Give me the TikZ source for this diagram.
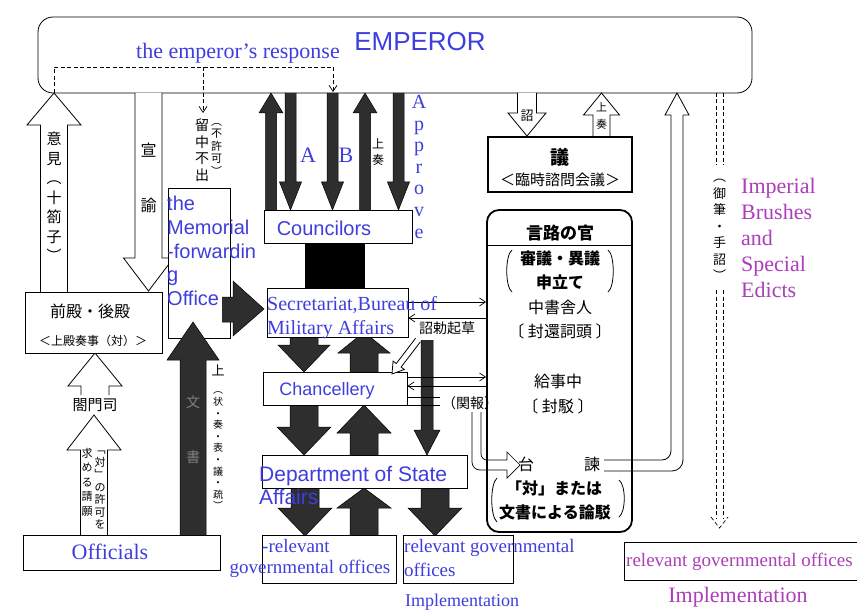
\documentclass[tikz,border=0pt]{standalone}
\usepackage{fontspec}
\setmainfont{Liberation Serif}
\setsansfont{Liberation Sans}
\newfontfamily\cjk{Noto Sans CJK JP}
\usetikzlibrary{arrows.meta}

\definecolor{inkblue}{RGB}{62,62,222}
\definecolor{inkviolet}{RGB}{172,62,186}

% freccia a blocco verticale: x, y inizio, y base punta, y punta, mezzo fusto, mezza punta
\newcommand\blockarr[7][]{%
  \draw[#1] ({#2-#6},#3) -- ({#2-#6},#4) -- ({#2-#7},#4) -- (#2,#5)
    -- ({#2+#7},#4) -- ({#2+#6},#4) -- ({#2+#6},#3);}

\tikzset{
  box/.style={draw, line width=0.8pt, fill=white, inner sep=0pt},
  dark/.style={fill=black!82, draw=black, line width=0.5pt},
  hollow/.style={fill=white, draw=black, line width=0.8pt},
  link/.style={line width=0.7pt, -{Straight Barb[length=6pt,width=8pt]}},
  dsh/.style={line width=0.7pt, dash pattern=on 4pt off 2.5pt},
  en/.style 2 args={text=inkblue, inner sep=0pt, align=left, font=\fontsize{#1}{#2}\selectfont},
  ensans/.style 2 args={text=inkblue, inner sep=0pt, align=left, font=\sffamily\fontsize{#1}{#2}\selectfont},
  vi/.style 2 args={text=inkviolet, inner sep=0pt, align=left, font=\fontsize{#1}{#2}\selectfont},
  jp/.style={inner sep=0pt, font=\cjk\fontsize{#1}{#1}\selectfont},
  jpb/.style={inner sep=0pt, font=\cjk\bfseries\fontsize{#1}{#1}\selectfont},
  jpv/.style 2 args={inner sep=0pt, align=center, font=\cjk\fontsize{#1}{#2}\selectfont}
}

\begin{document}
\begin{tikzpicture}[x=1pt,y=-1pt]
\useasboundingbox[fill=white] (0,0) rectangle (857,615);

% imperatore
\node[box, rounded corners=15pt, minimum width=714, minimum height=76] (emp) at (395,55) {};

% frecce vuote
\blockarr[hollow]{54}{294}{125}{93}{13.5}{27}
\blockarr[hollow]{148.5}{93}{258}{291}{13.5}{25}
\blockarr[hollow]{95}{395}{386}{353}{14}{27}
\blockarr[hollow]{94}{535}{450}{415}{13.5}{27}
\blockarr[hollow]{527}{93}{113}{136}{9.5}{19}
\blockarr[hollow]{601.5}{137}{115}{93}{8.5}{18}

% frecce scure
\blockarr[dark]{271}{210}{113}{93}{5.5}{12}
\blockarr[dark]{290.5}{93}{182}{210}{5.5}{11}
\blockarr[dark]{332.5}{93}{182}{210}{5.5}{11}
\blockarr[dark]{365}{210}{113}{93}{5.5}{12}
\blockarr[dark]{398.5}{93}{182}{210}{5.5}{11}
\fill[black] (305,243) rectangle (365,290);
\blockarr[dark]{304}{337}{345}{372}{14}{26}
\blockarr[dark]{364}{372}{353}{332}{14}{26}
\blockarr[dark]{304}{405}{427}{455}{14}{27}
\blockarr[dark]{364}{455}{433}{405}{14}{27}
\blockarr[dark]{427}{340}{430}{455}{6}{13}
\blockarr[dark]{305}{488}{508}{536}{14}{27}
\blockarr[dark]{364}{535}{508}{488}{14}{27}
\blockarr[dark]{435}{488}{508}{536}{14}{27}

% caselle
\node[box, minimum width=62, minimum height=150] (memo) at (199,263) {};
\node[box, minimum width=137, minimum height=61] (zen) at (93.5,322.5) {};
\node[box, minimum width=197, minimum height=35] (off) at (121.5,552.5) {};
\node[box, minimum width=148, minimum height=33] (coun) at (338,226.5) {};
\node[box, minimum width=141, minimum height=49] (sec) at (337.5,312.5) {};
\node[box, minimum width=144, minimum height=33] (chan) at (335,388.5) {};
\node[box, minimum width=205, minimum height=33] (dept) at (364.5,471.5) {};
\node[box, minimum width=134, minimum height=48] (rel1) at (329,559) {};
\node[box, minimum width=110, minimum height=48] (rel2) at (458,559) {};
\node[box, minimum width=246, minimum height=38] (rel3) at (747,561) {};
\node[box, line width=2pt, minimum width=144, minimum height=55] (gi) at (560,164.5) {};
\node[box, line width=1.8pt, rounded corners=12pt, minimum width=145, minimum height=322] (genro) at (559.5,371) {};
\draw[line width=0.7pt] (genro.west |- 0,245) -- (genro.east |- 0,245);

% verso il segretariato
\draw[dark] (222,297) -- (233,297) -- (233,281) -- (264,309) -- (233,336) -- (233,322) -- (222,322);
\blockarr[dark]{193}{535}{360}{322}{13}{26}

% collegamenti sottili
\draw[link] (sec.east |- 0,302) -- (genro.west |- 0,302);
\draw[link] (genro.west |- 0,318) -- (sec.east |- 0,318);
\draw[link] (chan.east |- 0,377) -- (genro.west |- 0,377);
\draw[link] (genro.west |- 0,386) -- (chan.east |- 0,386);
\draw[hollow] (420.4,341.8) -- (401.1,367.1) -- (404.3,369.5) -- (392,374) -- (393.1,361.1) -- (396.3,363.5) -- (415.6,338.2);
\draw[line width=0.7pt] (chan.east |- 0,397) -- (440,397) (chan.east |- 0,405) -- (440,405);
\draw[line width=0.7pt, rounded corners=8pt] (472,412) -- (472,470) -- (507,470);
\draw[line width=0.7pt, rounded corners=6pt] (481,412) -- (481,460) -- (507,460);
\draw[hollow, line width=0.7pt] (507,460) -- (507,452) -- (520,465) -- (507,478) -- (507,470);
\draw[line width=0.8pt, rounded corners=9pt] (604,460) -- (671,460) -- (671,114);
\draw[line width=0.8pt, rounded corners=11pt] (604,471) -- (683,471) -- (683,114);
\draw[hollow] (671,115) -- (665,115) -- (677,93) -- (689,115) -- (683,115);

% tratteggi
\draw[dsh, -{Straight Barb[length=6pt,width=8pt]}] (54,93) -- (54,67) -- (333,67) -- (333,92);
\draw[dsh, -{Straight Barb[length=6pt,width=8pt]}] (203,67) -- (203,113);
\foreach \xx in {716,723} {
  \draw[dsh] (\xx,93) -- (\xx,165);
  \draw[dsh] (\xx,290) -- (\xx,518);
}
\draw[dsh] (711,517) -- (719.5,528) -- (728,517);

% parentesi
\draw[line width=0.8pt] (512,250) .. controls (505,255) and (505,287) .. (512,292);
\draw[line width=0.8pt] (608,250) .. controls (615,255) and (615,287) .. (608,292);
\draw[line width=0.8pt] (497,478) .. controls (490,484) and (490,516) .. (497,522);
\draw[line width=0.8pt] (619,480) .. controls (626,485) and (626,512) .. (619,517);

% testi inglesi
\node[ensans={26}{26}] (emptxt) at (420,42) {EMPEROR};
\node[en={22}{22}] (resptxt) at (238,53) {the emperor’s response};
\node[ensans={20}{23.7}, anchor=north west] (memotxt) at (167,196) {the\\Memorial\\-forwardin\\g\\Office};
\node[ensans={20}{20}] (countxt) at (324,228) {Councilors};
\node[en={22}{22}] (atxt) at (308,155) {A};
\node[en={22}{22}] (btxt) at (346,155) {B};
\node[en={20}{21.6}, anchor=north, align=center] (apptxt) at (419,95) {A\\p\\p\\r\\o\\v\\e};
\node[en={20}{24}, anchor=north west] (sectxt) at (267,296) {Secretariat,Bureau of\\Military Affairs};
\node[ensans={18}{18}] (chantxt) at (327,391) {Chancellery};
\node[ensans={21}{23}, anchor=north west] (depttxt) at (259,466) {Department of State\\Affairs};
\node[en={19}{19}] (rel1a) at (296,546) {-relevant};
\node[en={19}{19}] (rel1b) at (310,569) {governmental offices};
\node[en={19}{24}, anchor=north west] (rel2txt) at (404,539) {relevant governmental\\offices};
\node[en={18}{18}] (impla) at (462,602) {Implementation};
\node[en={22}{22}] (offtxt) at (110,552) {Officials};
\node[vi={22}{26}, anchor=north west] (edtxt) at (741,178) {Imperial\\Brushes\\and\\Special\\Edicts};
\node[vi={19}{19}, anchor=west] (rel3txt) at (626,562) {relevant governmental offices};
\node[vi={22}{22}] (implb) at (738,597) {Implementation};

% testi giapponesi
\node[jpv={15}{19.5}] (iken) at (54,197) {意\\見\\︵\\十\\箚\\子\\︶};
\node[jp=16] (sen) at (148.5,150) {宣};
\node[jp=16] (yu) at (148.5,205) {諭};
\node[jpv={14}{16.5}] (ryu) at (202,150) {留\\中\\不\\出};
\node[jpv={11}{12.5}] (fukyo) at (216.5,149) {︵\\不\\許\\可\\︶};
\node[jpv={12}{16}] (josoa) at (378,152) {上\\奏};
\node[jp=13] (sho) at (527,116) {詔};
\node[jpv={11}{17}] (josob) at (601.5,116) {上\\奏};
\node[jpb=19] (gitxt) at (560,157) {議};
\node[jp=15] (gisub) at (560,180) {＜臨時諮問会議＞};
\node[jpb=17] (genrotxt) at (560,233) {言路の官};
\node[jpb=16] (shingi) at (560,258) {審議・異議};
\node[jpb=16] (moshi) at (560,282) {申立て};
\node[jp=16] (chusho) at (560,307) {中書舎人};
\node[jp=16] (hokan) at (560,331) {〔 封還詞頭 〕};
\node[jp=16] (kyuji) at (558,381) {給事中};
\node[jp=16] (fuhaku) at (558,406) {〔 封駁 〕};
\node[jp=16] (dai) at (526,464) {台};
\node[jp=16] (kan) at (592,464) {諫};
\node[jpb=16] (taimata) at (554,488) {「対」または};
\node[jpb=16] (ronbaku) at (555,512) {文書による論駁};
\node[jp=14] (shochoku) at (447,328) {詔勅起草};
\node[jp=14] (kanpo) at (470,403) {（関報）};
\node[jp=16] (zenden) at (90,311) {前殿・後殿};
\node[jp=12] (joden) at (93,341) {＜上殿奏事（対）＞};
\node[jp=15] (komon) at (95,405) {閤門司};
\node[jpv={11}{12.5}] (kyoka) at (100,490) {﹁\\対\\﹂\\の\\許\\可\\を};
\node[jpv={11}{14.5}] (seigan) at (87,482) {求\\め\\る\\請\\願};
\node[jp=13] (jo) at (218,370) {上};
\node[jpv={10}{11.6}] (jokind) at (218,451) {︵\\状\\・\\奏\\・\\表\\・\\議\\・\\疏\\︶};
\node[jpv={14}{55}, text=black!50] (bunsho) at (193,430) {文\\書};
\node[jpv={13}{16.5}] (gyohitsu) at (719.5,230) {︵\\御\\筆\\・\\手\\詔\\︶};
\end{tikzpicture}
\end{document}
